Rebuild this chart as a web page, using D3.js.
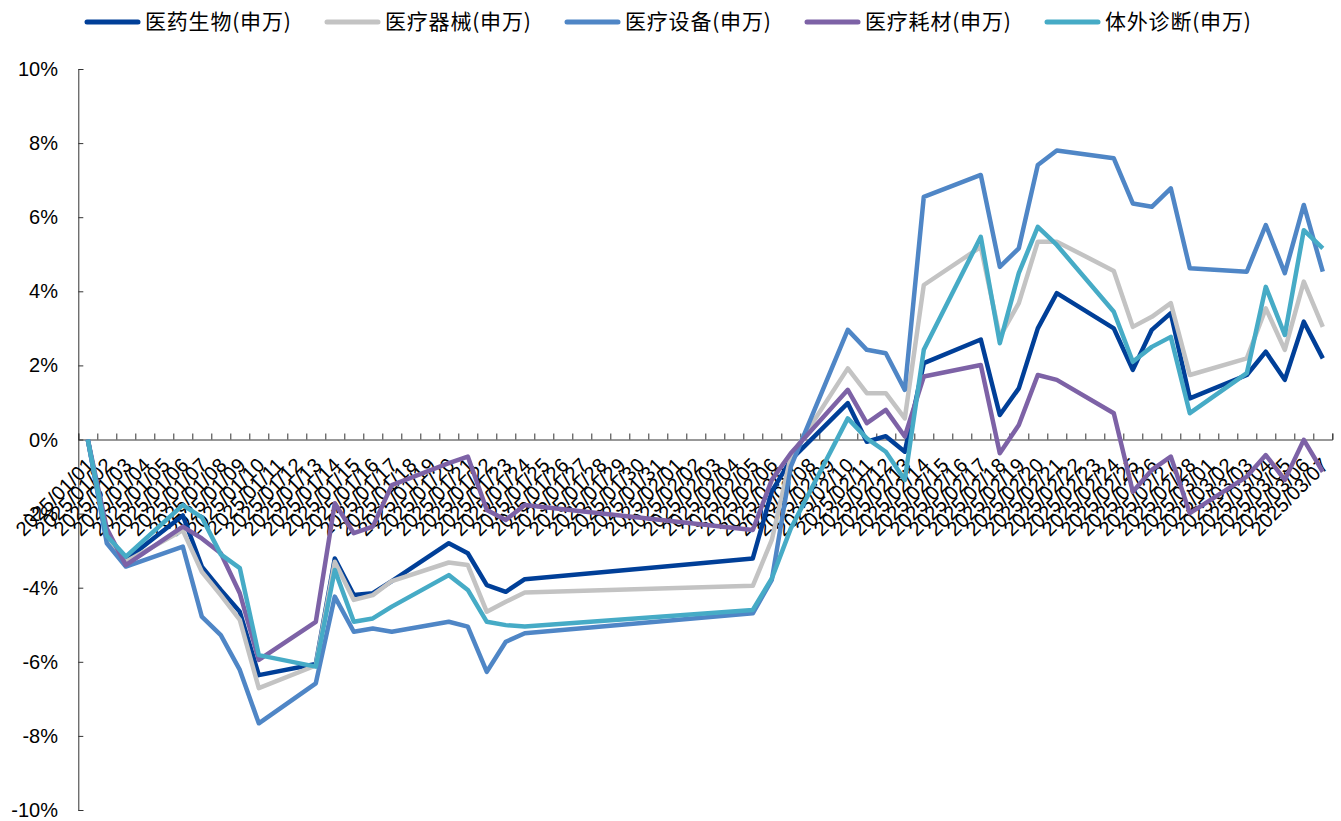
<!DOCTYPE html>
<html>
<head>
<meta charset="utf-8">
<script src="https://cdn.jsdelivr.net/npm/d3@7/dist/d3.min.js"></script>
<style>
  html, body { margin: 0; padding: 0; background: #fff; }
  svg { display: block; }
</style>
</head>
<body>
<svg id="chart" width="1341" height="821"></svg>
<script>
// Trading days plotted (2025/01/01 is the base day)
const dates = [
  "2025/01/01","2025/01/02","2025/01/03","2025/01/06","2025/01/07","2025/01/08","2025/01/09","2025/01/10",
  "2025/01/13","2025/01/14","2025/01/15","2025/01/16","2025/01/17","2025/01/20","2025/01/21","2025/01/22",
  "2025/01/23","2025/01/24","2025/02/05","2025/02/06","2025/02/07","2025/02/10","2025/02/11","2025/02/12",
  "2025/02/13","2025/02/14","2025/02/17","2025/02/18","2025/02/19","2025/02/20","2025/02/21","2025/02/24",
  "2025/02/25","2025/02/26","2025/02/27","2025/02/28","2025/03/03","2025/03/04","2025/03/05","2025/03/06",
  "2025/03/07"
];

// Cumulative return, %
const pharmaBio = [0,-2.7,-3.25,-2.05,-3.43,-4.06,-4.65,-6.36,-6.06,-3.21,-4.2,-4.15,-3.82,-2.8,-3.07,-3.93,-4.11,-3.77,-3.21,-1.4,-0.55,0.98,-0.06,0.09,-0.33,2.06,2.70,0.66,1.38,3.0,3.95,3.0,1.88,2.96,3.41,1.11,1.74,2.37,1.61,3.18,2.19];
const medDevices = [0,-2.7,-3.3,-2.45,-3.57,-4.2,-4.87,-6.71,-6.1,-3.3,-4.33,-4.2,-3.82,-3.32,-3.39,-4.65,-4.38,-4.13,-3.95,-2.71,-0.46,1.92,1.25,1.25,0.57,4.17,5.2,2.77,3.68,5.34,5.34,4.55,3.04,3.31,3.68,1.74,2.19,3.54,2.42,4.26,3.04];
const medEquipment = [0,-2.8,-3.43,-2.89,-4.78,-5.28,-6.22,-7.66,-6.58,-4.24,-5.19,-5.10,-5.19,-4.92,-5.05,-6.27,-5.46,-5.23,-4.69,-3.79,-0.73,2.96,2.42,2.33,1.34,6.55,7.14,4.66,5.16,7.41,7.80,7.59,6.37,6.28,6.78,4.62,4.53,5.79,4.49,6.33,4.53];
const medConsumables = [0,-2.4,-3.39,-2.35,-2.67,-3.07,-4.15,-5.95,-4.92,-1.72,-2.53,-2.35,-1.23,-0.64,-0.46,-1.9,-2.17,-1.77,-2.44,-1.09,-0.37,1.34,0.44,0.8,0.08,1.70,2.01,-0.37,0.39,1.74,1.61,0.71,-1.41,-0.82,-0.46,-1.99,-1.0,-0.42,-1.09,-0.01,-0.87];
const ivd = [0,-2.6,-3.16,-1.77,-2.1,-3.1,-3.47,-5.82,-6.13,-3.52,-4.92,-4.83,-4.51,-3.66,-4.06,-4.92,-5.01,-5.05,-4.6,-3.75,-2.4,0.57,0.03,-0.33,-1.09,2.42,5.47,2.6,4.49,5.74,5.25,3.45,2.1,2.5,2.77,0.71,1.79,4.12,2.82,5.65,5.16];

const seriesNames = ["医药生物(申万)","医疗器械(申万)","医疗设备(申万)","医疗耗材(申万)","体外诊断(申万)"];
const seriesValues = [pharmaBio, medDevices, medEquipment, medConsumables, ivd];
const seriesColors = ["#003f98","#c3c3c3","#4f86c6","#7d62a6","#46abc6"];

const yTicks = [10,8,6,4,2,0,-2,-4,-6,-8,-10];
const axisStart = "2025/01/01", axisEnd = "2025/03/08";

const svg = d3.select("#chart");
const parse = d3.utcParse("%Y/%m/%d");
const fmt = d3.utcFormat("%Y/%m/%d");

const x = d3.scaleUtc().domain([parse(axisStart), parse(axisEnd)]).range([78.3, 1332.3]);
const y = d3.scaleLinear().domain([-10, 10]).range([810, 69]);
const mid = d => d3.utcHour.offset(d, 12);

// Y axis (ticks inside, labels to the left)
const yAxisG = svg.append("g").attr("transform", `translate(${x.range()[0]},0)`);
yAxisG.call(d3.axisRight(y).tickValues(yTicks).tickSize(5).tickFormat(""));
yAxisG.select(".domain").attr("stroke", "#333").attr("stroke-width", 1);
yAxisG.selectAll(".tick line").attr("stroke", "#333");
svg.append("g").selectAll("text").data(yTicks).join("text")
  .attr("x", 58).attr("y", d => y(d)).attr("dy", "0.35em")
  .attr("text-anchor", "end")
  .attr("font-family", "Liberation Sans, Arial, sans-serif")
  .attr("font-size", 20).attr("fill", "#000")
  .text(d => d + "%");

// X axis along the zero line, a tick at every day boundary
const dayBounds = d3.utcDay.range(parse(axisStart), d3.utcDay.offset(parse(axisEnd), 1));
const xAxisG = svg.append("g").attr("transform", `translate(0,${y(0)})`);
xAxisG.call(d3.axisTop(x).tickValues(dayBounds).tickSize(6).tickFormat(""));
xAxisG.select(".domain").attr("stroke", "#333").attr("stroke-width", 1);
xAxisG.selectAll(".tick line").attr("stroke", "#333");

// Day labels, rotated
const dayLabels = d3.utcDay.range(parse(axisStart), parse(axisEnd));
svg.append("g").selectAll("text").data(dayLabels).join("text")
  .attr("transform", d => `translate(${x(mid(d)) + 2},${y(0) + 22}) rotate(-45)`)
  .attr("text-anchor", "end")
  .attr("dominant-baseline", "central")
  .attr("font-family", "Liberation Sans, Arial, sans-serif")
  .attr("font-size", 20).attr("fill", "#000")
  .text(d => fmt(d));

// Lines
const dateVals = dates.map(parse);
const line = d3.line().x(d => x(mid(d.date))).y(d => y(d.value));
seriesValues.forEach((vals, i) => {
  const pts = vals.map((v, j) => ({ date: dateVals[j], value: v }));
  svg.append("path").datum(pts)
    .attr("d", line)
    .attr("fill", "none")
    .attr("stroke", seriesColors[i])
    .attr("stroke-width", 4.5)
    .attr("stroke-linejoin", "round");
});

// Legend
const legend = svg.append("g");
seriesNames.forEach((name, i) => {
  const gx = 85 + i * 240;
  legend.append("line")
    .attr("x1", gx + 2).attr("x2", gx + 53).attr("y1", 22).attr("y2", 22)
    .attr("stroke", seriesColors[i]).attr("stroke-width", 5).attr("stroke-linecap", "round");
  legend.append("text")
    .attr("x", gx + 60).attr("y", 22).attr("dy", "0.35em")
    .attr("font-family", "Noto Sans CJK SC, sans-serif")
    .attr("font-size", 21).attr("letter-spacing", 0.8).attr("fill", "#000")
    .text(name);
});
</script>
</body>
</html>
